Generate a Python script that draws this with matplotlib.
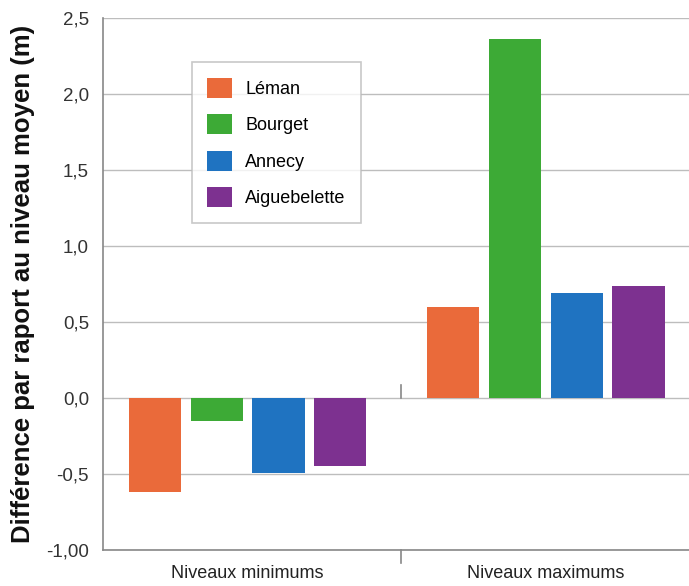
import numpy as np
import matplotlib.pyplot as plt
from matplotlib.patches import Patch

plt.rcParams['font.family'] = ['Liberation Sans', 'DejaVu Sans']

# Écarts au niveau moyen (m) pour chaque lac
groupes = ["Niveaux minimums", "Niveaux maximums"]
lacs = ["Léman", "Bourget", "Annecy", "Aiguebelette"]
leman = [-0.62, 0.60]
bourget = [-0.15, 2.36]
annecy = [-0.49, 0.69]
aiguebelette = [-0.45, 0.74]
couleurs = ["#EA6A3A", "#3DAA36", "#1F73C1", "#7D3190"]
yticks = [-1.0, -0.5, 0.0, 0.5, 1.0, 1.5, 2.0, 2.5]
ytick_labels = ["-1,00", "-0,5", "0,0", "0,5", "1,0", "1,5", "2,0", "2,5"]

series = [leman, bourget, annecy, aiguebelette]

fig = plt.figure(figsize=(6.89, 5.86), dpi=100)
ax = fig.add_axes([0.1495, 0.0614, 0.8505, 0.9076])

x = np.arange(len(groupes))
pas = 0.207
largeur = 0.175
for j, (vals, c) in enumerate(zip(series, couleurs)):
    ax.bar(x + (j - 1.5) * pas, vals, width=largeur, color=c, zorder=3)

ax.set_xlim(-0.485, 1.48)
ax.set_ylim(-1.0, 2.5)
ax.set_yticks(yticks)
ax.set_yticklabels(ytick_labels, fontsize=13.5, color="#333333")
ax.tick_params(axis="y", length=0, pad=10)
ax.grid(axis="y", color="#bdbdbd", linewidth=1.0, zorder=0)
ax.set_axisbelow(True)

ax.set_xticks(x)
ax.set_xticklabels(groupes, fontsize=13, color="#222222")
ax.tick_params(axis="x", length=0, pad=11)

for side in ["top", "right"]:
    ax.spines[side].set_visible(False)
for side in ["left", "bottom"]:
    ax.spines[side].set_color("#888888")
    ax.spines[side].set_linewidth(1.2)

# petits repères de séparation entre les deux groupes
sep = 0.515
ax.plot([sep, sep], [0, 0.085], color="#888888", lw=1.2, zorder=2)
ax.plot([sep, sep], [-1.0, -1.085], color="#888888", lw=1.2, clip_on=False)

ax.set_ylabel("Différence par raport au niveau moyen (m)", fontsize=18.5,
              fontweight="bold", color="#111111", labelpad=8)

poignees = [Patch(facecolor=c, label=l) for c, l in zip(couleurs, lacs)]
leg = ax.legend(handles=poignees, loc="upper left", bbox_to_anchor=(0.152, 0.917),
                fontsize=13, frameon=True, fancybox=False, edgecolor="#bbbbbb",
                handlelength=1.35, handleheight=1.35, handletextpad=0.75,
                labelspacing=0.9, borderpad=0.85, borderaxespad=0)
leg.get_frame().set_linewidth(1.2)

fig.savefig("out.png", dpi=100)
